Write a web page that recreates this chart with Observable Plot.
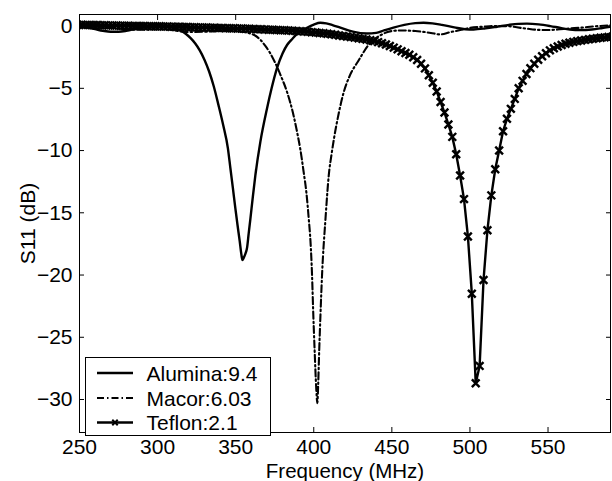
<!DOCTYPE html>
<html>
<head>
<meta charset="utf-8">
<script src="https://cdn.jsdelivr.net/npm/d3@7"></script>
<script src="https://cdn.jsdelivr.net/npm/@observablehq/plot@0.6"></script>
<style>
  html, body { margin: 0; padding: 0; background: #fff; }
  svg { display: block; }
</style>
</head>
<body>
<div id="chart"></div>
<script>
// ---- data ----
const xTicks = [250, 300, 350, 400, 450, 500, 550];
const yTicks = [0, -5, -10, -15, -20, -25, -30];

const seriesNames = ["Alumina:9.4", "Macor:6.03", "Teflon:2.1"];

const aluminaFreq = [250,255,260,265,270,275,280,285,290,295,300,305,310,315,318,321,324,327,330,333,
  336,339,342,345,346.6,348.2,349.8,351.2,352.6,353.6,354.3,355.2,356.2,357.3,358.3,359.4,361,362.6,365.8,370.1,
  373,376.5,380,383,386.5,390,395.7,400,404.2,408,412,417,425,434,440,445,451,458,465,470.3,
  476,482,490,497,502.3,510,517.3,525,531,536.5,544,551.5,558,564,570.7,578,584,590];
const aluminaS11 = [0.0,-0.12,-0.25,-0.38,-0.46,-0.46,-0.38,-0.24,-0.08,0.08,0.12,0.04,-0.12,-0.38,-0.62,-0.95,-1.38,-1.95,-2.7,-3.65,
  -4.85,-6.35,-7.95,-9.8,-11.4,-13.0,-14.65,-16.0,-17.3,-18.3,-18.8,-18.6,-18.3,-17.8,-16.7,-15.5,-13.7,-12.0,-9.3,-6.6,
  -5.0,-3.36,-2.2,-1.5,-1.0,-0.55,-0.13,0.12,0.27,0.22,0.08,-0.13,-0.45,-0.6,-0.55,-0.35,-0.12,0.1,0.24,0.27,
  0.22,0.1,-0.1,-0.25,-0.27,-0.18,-0.05,0.1,0.18,0.2,0.14,0.0,-0.15,-0.27,-0.32,-0.27,-0.17,-0.05];

const macorFreq = [250,260,270,279,290,300,307,312,320,330,340,350,358,361.5,365.8,369,372.2,375.5,378.6,382.9,
  387.1,389.3,391.4,393.5,395.3,396.8,397.9,398.9,399.6,400.6,401.5,402.3,402.8,403.5,404.2,405.3,407.5,409.6,411.5,413,
  416,419.2,423,428.5,436.2,442.6,448,455,465,475,481,487,493.8,500,508.8,516,523.7,530,536.5,543,
  549.3,556,563,570.7,580,590];
const macorS11 = [0.0,0.0,-0.1,-0.27,-0.3,-0.27,-0.28,-0.38,-0.48,-0.45,-0.4,-0.42,-0.55,-0.7,-1.1,-1.6,-2.2,-3.0,-3.9,-5.3,
  -7.2,-8.5,-9.9,-11.7,-13.4,-15.5,-17.3,-20.0,-22.8,-26.2,-28.9,-30.3,-28.9,-26.0,-23.5,-20.0,-15.5,-12.0,-10.2,-9.0,
  -7.0,-5.3,-4.0,-2.8,-1.35,-0.75,-0.45,-0.35,-0.4,-0.55,-0.67,-0.5,-0.32,-0.15,-0.05,0.0,0.0,-0.1,-0.21,-0.3,
  -0.32,-0.28,-0.2,-0.13,-0.02,0.06];

// Teflon: sampled every 2.5 MHz (one marker per sample), first sample at 248.7 MHz
const teflonStartMHz = 248.7;
const teflonStepMHz = 2.5;
const teflonS11 = [0.10,0.10,0.09,0.09,0.08,0.08,0.07,0.06,0.05,0.05,
  0.04,0.03,0.03,0.02,0.01,0.01,0.00,0.00,-0.01,-0.01,
  -0.02,-0.02,-0.03,-0.04,-0.05,-0.05,-0.06,-0.07,-0.08,-0.09,
  -0.10,-0.11,-0.12,-0.12,-0.13,-0.14,-0.15,-0.16,-0.17,-0.17,
  -0.18,-0.19,-0.20,-0.21,-0.22,-0.23,-0.25,-0.26,-0.27,-0.29,
  -0.30,-0.31,-0.33,-0.34,-0.36,-0.38,-0.40,-0.42,-0.44,-0.46,
  -0.49,-0.52,-0.55,-0.58,-0.62,-0.66,-0.70,-0.75,-0.80,-0.84,
  -0.88,-0.93,-0.98,-1.03,-1.08,-1.14,-1.21,-1.29,-1.38,-1.48,
  -1.60,-1.73,-1.87,-2.02,-2.16,-2.30,-2.50,-2.72,-3.02,-3.40,
  -3.95,-4.55,-5.25,-6.10,-6.95,-7.90,-8.90,-10.30,-12.00,-13.90,
  -16.90,-21.50,-28.70,-27.30,-20.40,-16.40,-13.60,-11.50,-10.00,-8.45,
  -7.45,-6.65,-5.85,-5.00,-4.40,-3.85,-3.38,-3.02,-2.70,-2.42,
  -2.18,-1.95,-1.78,-1.64,-1.52,-1.42,-1.34,-1.27,-1.21,-1.16,
  -1.11,-1.06,-1.02,-0.98,-0.94,-0.91,-0.88,-0.85];

// ---- tables for Plot ----
const alumina = aluminaFreq.map((f, i) => ({f, s: aluminaS11[i]}));
const macor = macorFreq.map((f, i) => ({f, s: macorS11[i]}));
const teflon = teflonS11.map((s, i) => ({f: teflonStartMHz + i * teflonStepMHz, s}));

const FONT = "'Liberation Sans', Arial, Helvetica, sans-serif";
const FS = 21;
const DASHDOT = "7,3,1.5,3";

const plot = Plot.plot({
  width: 612,
  height: 481,
  marginLeft: 79,
  marginRight: 2,
  marginTop: 14,
  marginBottom: 49,
  style: {fontFamily: FONT, fontSize: FS + "px", color: "#000", background: "#fff", overflow: "visible"},
  x: {domain: [250, 590], label: null},
  y: {domain: [-32.65, 0.93], label: null},
  marks: [
    Plot.line(alumina, {x: "f", y: "s", curve: "monotone-x", stroke: "#000", strokeWidth: 2.4, clip: true}),
    Plot.line(macor, {x: "f", y: "s", curve: "monotone-x", stroke: "#000", strokeWidth: 2.1,
      strokeDasharray: DASHDOT, clip: true}),
    Plot.line(teflon, {x: "f", y: "s", stroke: "#000", strokeWidth: 2.4, clip: true}),
    Plot.dot(teflon, {x: "f", y: "s", symbol: "times", r: 3.6, stroke: "#000", strokeWidth: 2.4, clip: true}),
    Plot.frame({stroke: "#000", strokeWidth: 1}),
    Plot.axisX(xTicks, {anchor: "bottom", tickSize: 5, dy: -5, tickPadding: 7, fontSize: FS, label: null}),
    Plot.axisX(xTicks, {anchor: "top", tickSize: 5, dy: 5, tickFormat: () => "", label: null}),
    Plot.axisY(yTicks, {anchor: "left", tickSize: 5, dx: 5, tickPadding: 7, fontSize: FS, label: null}),
    Plot.axisY(yTicks, {anchor: "right", tickSize: 5, dx: -5, tickFormat: () => "", label: null}),
    Plot.text(["Frequency (MHz)"], {frameAnchor: "bottom", dy: 39, lineAnchor: "middle", fontSize: 20.5}),
    Plot.text(["S11 (dB)"], {frameAnchor: "left", dx: -51, rotate: -90, textAnchor: "middle", lineAnchor: "middle", fontSize: FS})
  ]
});

// ---- legend (drawn on top of the plot) ----
const svg = d3.select(plot);
const lg = svg.append("g").attr("font-family", FONT).attr("font-size", FS).attr("text-anchor", "start");
lg.append("rect").attr("x", 85.5).attr("y", 357.5).attr("width", 185).attr("height", 78)
  .attr("fill", "#fff").attr("stroke", "#000").attr("stroke-width", 1);
const rows = [373, 398, 422.5];
const styles = [
  {dash: null, w: 2.4},
  {dash: DASHDOT, w: 2.1},
  {dash: null, w: 2.4}
];
seriesNames.forEach((name, i) => {
  const y = rows[i];
  lg.append("line").attr("x1", 97).attr("x2", 133).attr("y1", y).attr("y2", y)
    .attr("stroke", "#000").attr("stroke-width", styles[i].w)
    .attr("stroke-dasharray", styles[i].dash);
  lg.append("text").attr("x", 146.5).attr("y", y).attr("dy", "0.36em")
    .attr("text-anchor", "start").attr("fill", "#000").text(name);
});
lg.append("path").attr("transform", `translate(115,${rows[2]})`)
  .attr("d", d3.symbol(d3.symbolTimes, 2.6 * 2.6 * Math.PI)())
  .attr("fill", "none").attr("stroke", "#000").attr("stroke-width", 2);

document.getElementById("chart").appendChild(plot);
</script>
</body>
</html>
